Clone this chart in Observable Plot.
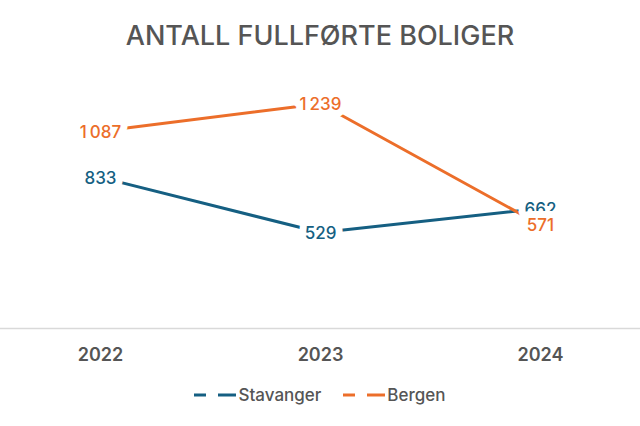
<!DOCTYPE html>
<html><head><meta charset="utf-8">
<script src="https://cdn.jsdelivr.net/npm/d3@7"></script>
<script src="https://cdn.jsdelivr.net/npm/@observablehq/plot@0.6"></script>
<style>
body{margin:0;background:#fff;font-family:Inter,"Liberation Sans",sans-serif;width:640px;height:426px;overflow:hidden}
#title{height:60px;display:flex;align-items:center;justify-content:center;font-size:27px;color:#555;font-weight:500;padding-top:10px;box-sizing:border-box}
#legend{display:flex;justify-content:center;gap:22px;font-size:17px;color:#555;margin-top:15px;font-weight:500}
#legend span{display:flex;align-items:center}
</style></head>
<body>
<div id="title">ANTALL FULLFØRTE BOLIGER</div>
<div id="chart"></div>
<div id="legend"></div>
<script>
const years = ["2022", "2023", "2024"];
const stavanger = [833, 529, 662];
const bergen = [1087, 1239, 571];
const seriesNames = ["Stavanger", "Bergen"];
const colors = ["#155f82", "#ec6e2a"];

const data = [];
years.forEach((y, i) => data.push({year: y, value: stavanger[i], series: "Stavanger"}));
years.forEach((y, i) => data.push({year: y, value: bergen[i], series: "Bergen"}));

const chart = Plot.plot({
  width: 640,
  height: 310,
  marginLeft: 0,
  marginRight: 0,
  marginTop: 14,
  marginBottom: 42,
  style: {fontFamily: "Inter, 'Liberation Sans', sans-serif", background: "#fff"},
  x: {type: "point", domain: years, padding: 0.4545, label: null},
  y: {domain: [0, 1400], axis: null},
  color: {domain: seriesNames, range: colors},
  marks: [
    Plot.ruleY([0], {stroke: "#d9d9d9", strokeWidth: 1.5}),
    Plot.axisX({tickSize: 0, tickPadding: 20, fontSize: 18, fontWeight: 600, fill: "#555", label: null}),
    Plot.line(data.filter(d => d.series === "Stavanger"), {x: "year", y: "value", stroke: colors[0], strokeWidth: 3}),
    Plot.line(data.filter(d => d.series === "Bergen"), {x: "year", y: "value", stroke: colors[1], strokeWidth: 3}),
    Plot.text(data.filter(d => d.series === "Stavanger"), {x: "year", y: "value", dy: 1, text: d => String(d.value), fill: colors[0], stroke: "white", strokeWidth: 14, strokeLinejoin: "round", fontSize: 17, fontWeight: 500}),
    Plot.text(data.filter(d => d.series === "Bergen"), {x: "year", y: "value", dy: 1, text: d => d.value >= 1000 ? String(d.value)[0] + "\u2009" + String(d.value).slice(1) : String(d.value), fill: colors[1], stroke: "white", strokeWidth: 14, strokeLinejoin: "round", fontSize: 17, fontWeight: 500})
  ]
});
document.getElementById("chart").appendChild(chart);

const legend = document.getElementById("legend");
seriesNames.forEach((name, i) => {
  const s = document.createElement("span");
  s.innerHTML = `<svg width="42" height="10" style="margin-right:2px"><line x1="0" y1="5" x2="12" y2="5" stroke="${colors[i]}" stroke-width="3"/><line x1="24" y1="5" x2="42" y2="5" stroke="${colors[i]}" stroke-width="3"/></svg>${name}`;
  legend.appendChild(s);
});
</script>
</body></html>
